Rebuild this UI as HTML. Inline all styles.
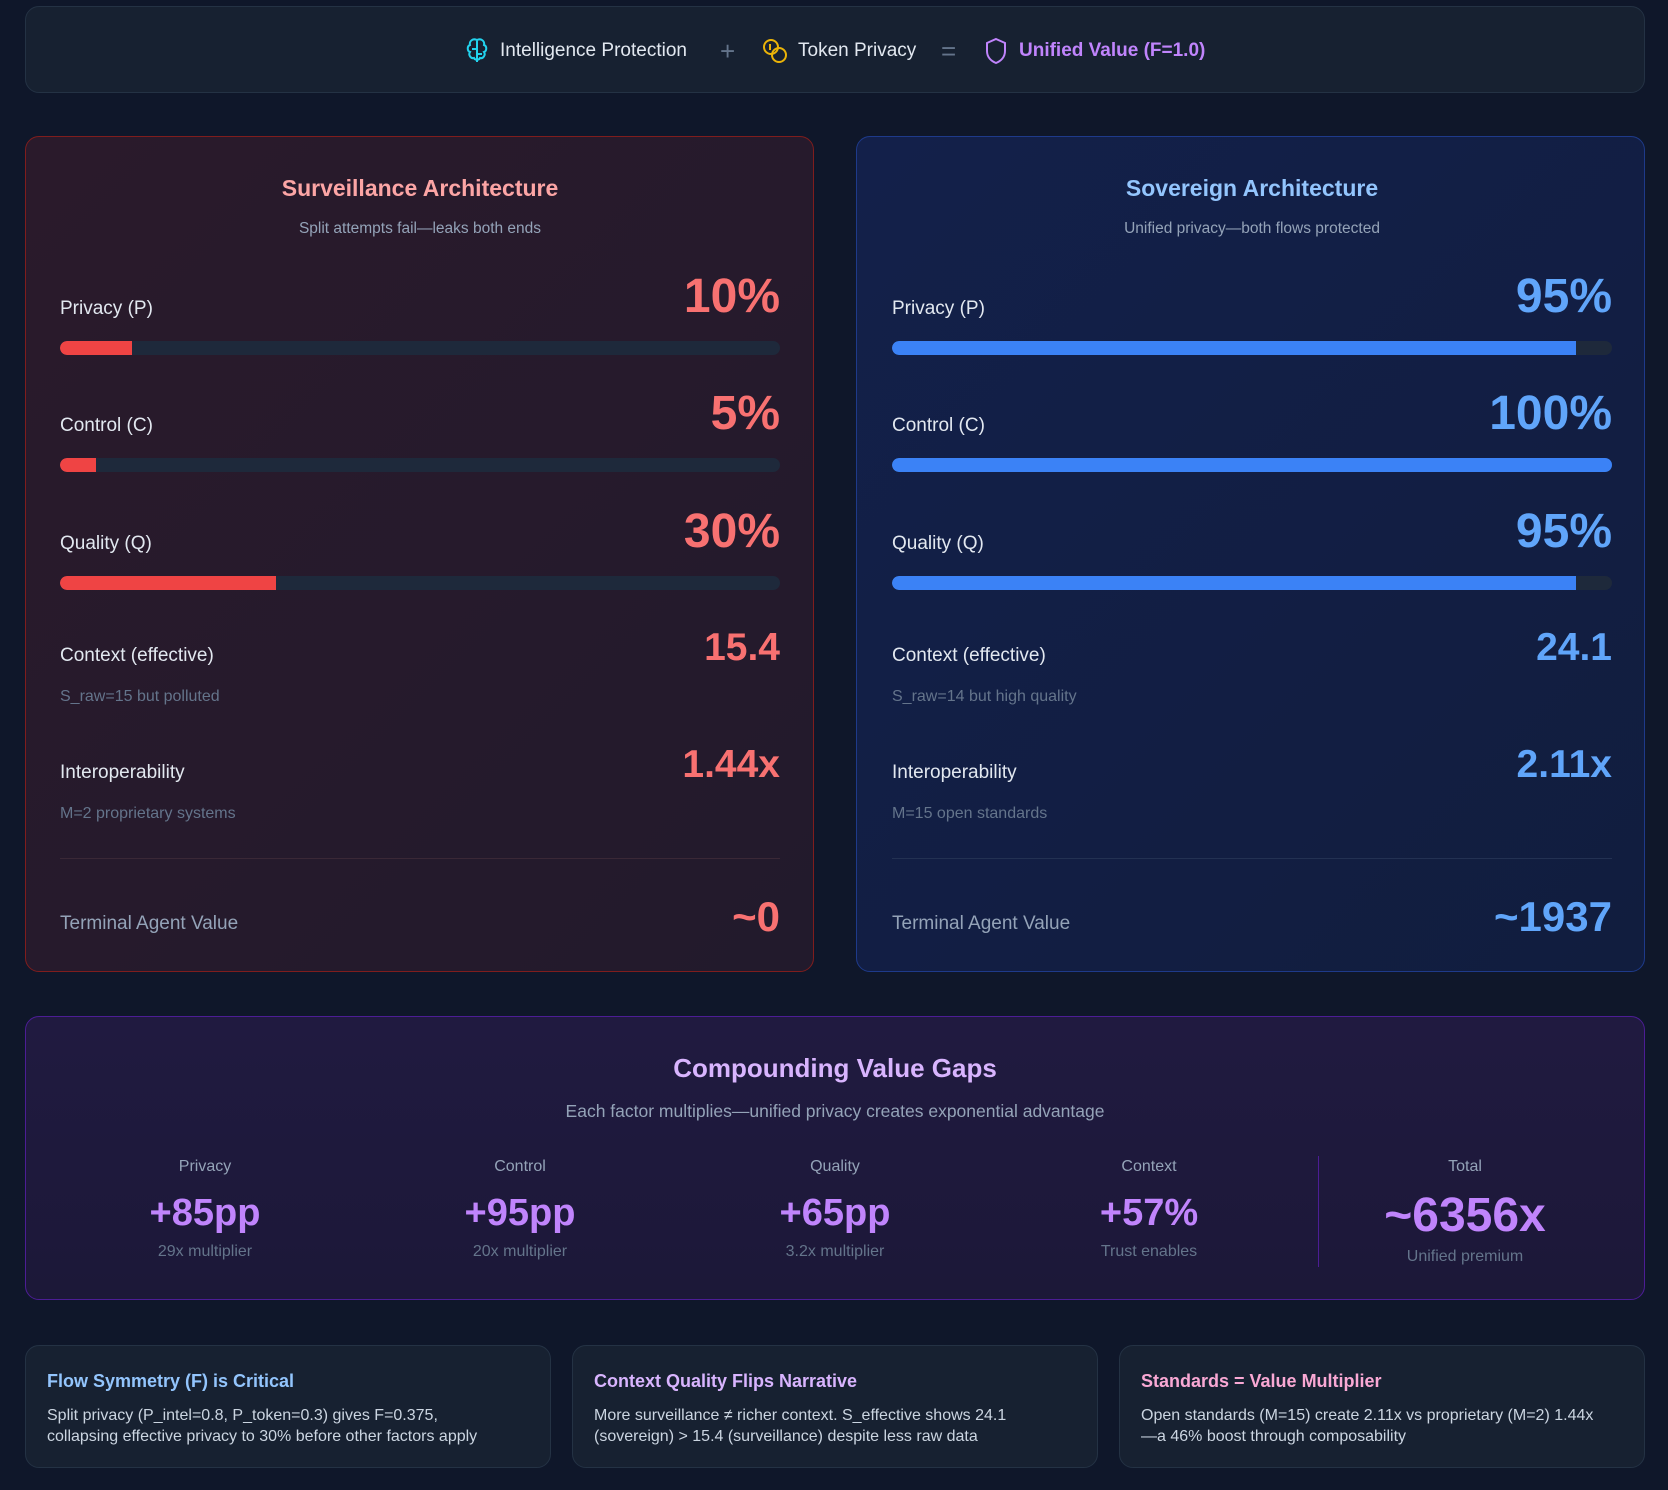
<!DOCTYPE html>
<html><head><meta charset="utf-8"><style>
*{margin:0;padding:0;box-sizing:border-box}
body{width:1668px;height:1490px;background:#0f172a;font-family:"Liberation Sans",sans-serif;position:relative;overflow:hidden;color:#e2e8f0}
.abs{position:absolute}
.box{position:absolute;border-radius:14px}
.lbl{position:absolute;font-size:19px;color:#e2e8f0}
.sub{position:absolute;font-size:16px;color:#64748b}
.val{position:absolute;font-weight:bold;text-align:right}
.track{position:absolute;height:14px;border-radius:7px;background:#1e293b;overflow:hidden}
.fill{height:100%;border-radius:7px 0 0 7px}
.c{position:absolute;text-align:center;transform:translateX(-50%);white-space:nowrap}
</style></head><body>
<div class="box" style="left:25px;top:6px;width:1620px;height:87px;background:#172131;border:1px solid #243244"></div>
<svg class="abs" style="left:464px;top:37px" width="26" height="28" viewBox="0 0 26 28"><path d="M13 3v22M13 3c-4-2-8 1-7 5-3 1-3 6 0 7-2 3 1 7 4 6 1 2 3 2 3 1M13 3c4-2 8 1 7 5 3 1 3 6 0 7 2 3-1 7-4 6-1 2-3 2-3 1M8 12h5M13 17h5" fill="none" stroke="#22d3ee" stroke-width="2"/></svg>
<div class="abs" style="left:500px;top:40px;font-size:19px;color:#e2e8f0">Intelligence Protection</div>
<div class="abs" style="left:720px;top:36px;font-size:26px;color:#64748b">+</div>
<svg class="abs" style="left:761px;top:37px" width="28" height="28" viewBox="0 0 28 28"><circle cx="10" cy="10" r="7" fill="none" stroke="#eab308" stroke-width="2"/><circle cx="18" cy="18" r="7" fill="none" stroke="#eab308" stroke-width="2"/><path d="M9 7v6" stroke="#eab308" stroke-width="2"/></svg>
<div class="abs" style="left:798px;top:40px;font-size:19px;color:#e2e8f0">Token Privacy</div>
<div class="abs" style="left:941px;top:36px;font-size:26px;color:#64748b">=</div>
<svg class="abs" style="left:984px;top:37px" width="24" height="28" viewBox="0 0 24 28"><path d="M12 2l9 4v8c0 6-4 10-9 12C7 24 3 20 3 14V6z" fill="none" stroke="#c084fc" stroke-width="2"/></svg>
<div class="abs" style="left:1019px;top:40px;font-size:19px;color:#c084fc;font-weight:bold">Unified Value (F=1.0)</div>

<div class="box" style="left:25px;top:136px;width:789px;height:836px;background:linear-gradient(135deg,#2a1a2b,#221a2c);border:1.5px solid #7f1d1d"></div>
<div class="box" style="left:856px;top:136px;width:789px;height:836px;background:linear-gradient(135deg,#13204a,#111d3e);border:1.5px solid #1e3a8a"></div>
<div id="cards"></div>

<div class="box" style="left:25px;top:1016px;width:1620px;height:284px;background:linear-gradient(180deg,#201a40,#1c1838);border:1.5px solid #4c1d95"></div>
<div class="c" style="left:835px;top:1053px;font-size:26px;font-weight:bold;color:#d8b4fe">Compounding Value Gaps</div>
<div class="c" style="left:835px;top:1101px;font-size:17.5px;color:#94a3b8">Each factor multiplies—unified privacy creates exponential advantage</div>
<div class="abs" style="left:1318px;top:1156px;width:1px;height:111px;background:#4c1d95"></div>
<div id="gaps"></div>

<div id="notes"></div>
<script>
const cardLeft=[60,892];
const cardTitles=["Surveillance Architecture","Sovereign Architecture"];
const cardSubs=["Split attempts fail—leaks both ends","Unified privacy—both flows protected"];
const barLabels=["Privacy (P)","Control (C)","Quality (Q)"];
const barValuesA=[10,5,30];
const barValuesB=[95,100,95];
const ctxA="15.4", ctxB="24.1";
const ctxSubA="S_raw=15 but polluted", ctxSubB="S_raw=14 but high quality";
const intA="1.44x", intB="2.11x";
const intSubA="M=2 proprietary systems", intSubB="M=15 open standards";
const termA="~0", termB="~1937";
const gapLabels=["Privacy","Control","Quality","Context","Total"];
const gapValues=["+85pp","+95pp","+65pp","+57%","~6356x"];
const gapSubs=["29x multiplier","20x multiplier","3.2x multiplier","Trust enables","Unified premium"];
const noteTitles=["Flow Symmetry (F) is Critical","Context Quality Flips Narrative","Standards = Value Multiplier"];
const noteTexts=["Split privacy (P_intel=0.8, P_token=0.3) gives F=0.375,<br>collapsing effective privacy to 30% before other factors apply","More surveillance ≠ richer context. S_effective shows 24.1<br>(sovereign) &gt; 15.4 (surveillance) despite less raw data","Open standards (M=15) create 2.11x vs proprietary (M=2) 1.44x<br>—a 46% boost through composability"];
const noteColors=["#93c5fd","#d8b4fe","#f9a8d4"];

function mk(parent,cls,style,html,name){const e=document.createElement('div');e.className=cls;e.style.cssText=style;e.innerHTML=html;


parent.appendChild(e);return e;}
const cards=document.getElementById('cards');
const W=720;
[0,1].forEach(i=>{
 const L=cardLeft[i], vals=i?barValuesB:barValuesA;
 const tc=i?'#93c5fd':'#fca5a5', vc=i?'#60a5fa':'#f87171', fc=i?'#3b82f6':'#ef4444';
 const cx=L+W/2;
 mk(cards,'c',`left:${cx}px;top:175px;font-size:23px;font-weight:bold;color:${tc}`,cardTitles[i],'card-title');
 mk(cards,'c',`left:${cx}px;top:220px;font-size:15.5px;color:#94a3b8`,cardSubs[i],'card-subtitle');
 barLabels.forEach((lab,k)=>{
  const y=[298,415,533][k];
  mk(cards,'lbl',`left:${L}px;top:${y}px`,lab,'metric-label');
  mk(cards,'val',`left:${L}px;width:${W}px;top:${y-29}px;font-size:48px;color:${vc}`,vals[k]+'%','metric-value');
  const t=mk(cards,'track',`left:${L}px;top:${y+43}px;width:${W}px`,'','bar-track');
  const f=document.createElement('div');f.className='fill';f.style.width=(vals[k]/100*W)+'px';f.style.background=fc;
  
  
  t.appendChild(f);
 });
 mk(cards,'lbl',`left:${L}px;top:645px`,'Context (effective)','context-label');
 mk(cards,'sub',`left:${L}px;top:688px`,i?ctxSubB:ctxSubA,'context-sub');
 mk(cards,'val',`left:${L}px;width:${W}px;top:626px;font-size:39px;color:${vc}`,i?ctxB:ctxA,'context-value');
 mk(cards,'lbl',`left:${L}px;top:762px`,'Interoperability','interop-label');
 mk(cards,'sub',`left:${L}px;top:805px`,i?intSubB:intSubA,'interop-sub');
 mk(cards,'val',`left:${L}px;width:${W}px;top:743px;font-size:39px;color:${vc}`,i?intB:intA,'interop-value');
 mk(cards,'abs',`left:${L}px;top:858px;width:${W}px;height:1px;background:${i?'#233152':'#3a2836'}`,'','divider');
 mk(cards,'lbl',`left:${L}px;top:913px;color:#94a3b8`,'Terminal Agent Value','terminal-label');
 mk(cards,'val',`left:${L}px;width:${W}px;top:893px;font-size:42px;color:${vc}`,i?termB:termA,'terminal-value');
});
const gaps=document.getElementById('gaps');
const gx=[205,520,835,1149,1465];
gapLabels.forEach((g,i)=>{
 const big=i==4;
 mk(gaps,'c',`left:${gx[i]}px;top:1158px;font-size:16px;color:#94a3b8`,g,'gap-label');
 mk(gaps,'c',`left:${gx[i]}px;top:${big?1188:1192}px;font-size:${big?48:38}px;font-weight:bold;color:#c084fc`,gapValues[i],'gap-value');
 mk(gaps,'c',`left:${gx[i]}px;top:${big?1248:1243}px;font-size:16px;color:#64748b`,gapSubs[i],'gap-sub');
});
const notes=document.getElementById('notes');
const nx=[25,572,1119];
noteTitles.forEach((t,i)=>{
 mk(notes,'box',`left:${nx[i]}px;top:1345px;width:526px;height:123px;background:#172131;border:1px solid #243244`,'','note-card');
 mk(notes,'abs',`left:${nx[i]+22}px;top:1371px;font-size:18px;font-weight:bold;color:${noteColors[i]}`,t,'note-title');
 mk(notes,'abs',`left:${nx[i]+22}px;top:1405px;font-size:16px;line-height:21px;color:#cbd5e1;white-space:nowrap`,noteTexts[i],'note-text');
});
</script>
</body></html>
